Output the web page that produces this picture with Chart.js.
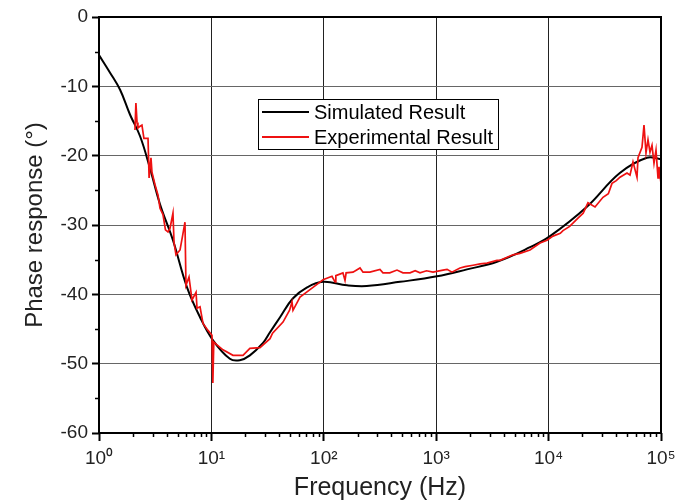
<!DOCTYPE html>
<html><head><meta charset="utf-8">
<script src="https://cdn.jsdelivr.net/npm/chart.js@4/dist/chart.umd.min.js"></script>
<style>html,body{margin:0;padding:0;background:#fff}#wrap{width:687px;height:503px;position:relative}</style>
</head><body><div id="wrap"><canvas id="c"></canvas></div>
<script>
const seriesLabels = ['Simulated Result', 'Experimental Result'];

const simFreq = [1, 1.25, 1.54, 1.89, 2.32, 2.84, 3.49, 4.55, 6.07, 7.92, 10.3, 14.6, 17.9, 22, 28.8, 33.1, 40.8, 53, 71, 98.5, 161, 241, 477, 1016, 1880, 3470, 6840, 10300, 21800, 43000, 74800, 100000];
const simPhase = [-5.5, -8, -10.5, -14.1, -17.2, -21.8, -27, -32.2, -39, -43.3, -46.6, -49.3, -49.5, -48.8, -47, -45.5, -43.3, -40.6, -39, -38.2, -38.7, -38.8, -38.2, -37.4, -36.4, -35.3, -33.2, -31.6, -27.4, -22.5, -20.3, -20.5];

const expFreq = [
  2.09, 2.13, 2.18, 2.22, 2.30, 2.41, 2.51, 2.73, 2.79, 2.90,
  2.96, 3.15, 3.35, 3.49, 3.71, 3.90, 4.11, 4.28, 4.55, 4.65,
  4.84, 5.26, 5.55, 5.82, 5.94, 6.32, 6.72, 7.30, 7.45, 7.92,
  8.42, 9.33, 10.12, 10.3, 10.5, 11.21, 12.68, 15.56, 19.10, 22.0,
  27.06, 33.22, 35.0, 43.36, 49.6, 52.14, 53.21, 61.42, 80.16, 98.4,
  118.3, 125.8, 128, 148, 154.4, 158, 181.9, 210, 223.3, 257,
  316, 336, 386, 448, 506, 585, 650, 718, 820, 937,
  1149, 1250, 1380, 1628, 1810, 2126, 2460, 2831, 3470, 3695,
  4824, 5560, 6831, 8390, 9678, 10940, 12700, 13430, 15400, 18260,
  20300, 22410, 25870, 30480, 34000, 36650, 40000, 43170, 49830, 53000,
  56350, 61150, 62430, 67760, 70590, 73540, 76620, 79800, 83160, 86640,
  90260, 94040, 95980, 100000];
const expPhase = [
  -16.3, -12.4, -15.2, -16, -15.8, -15.6, -17.5, -17.5, -23.2, -20.3,
  -22.4, -24.2, -25.7, -27.6, -28.5, -30.7, -31, -30.5, -28.3, -32.5,
  -34.3, -33.6, -31.5, -29.6, -38.7, -37.5, -40.8, -39.7, -42, -41.8,
  -44.2, -45.2, -45.9, -52.8, -46.9, -47.3, -48, -48.8, -48.8, -47.8,
  -47.7, -46.4, -45.6, -44, -42.3, -41.1, -42.3, -40.4, -39, -37.9,
  -37.4, -38.2, -37.3, -36.9, -38, -36.9, -36.8, -36.2, -36.8, -36.8,
  -36.4, -36.9, -36.9, -36.5, -36.9, -36.9, -36.6, -36.9, -36.6, -36.8,
  -36.5, -36.4, -36.8, -36.2, -36.0, -35.8, -35.6, -35.5, -35.1, -35.1,
  -34.3, -34.1, -33.6, -32.6, -32.2, -31.6, -31.2, -30.8, -30.2, -29,
  -28.3, -26.8, -27.4, -26, -25.5, -24, -23.6, -23.1, -22.5, -22.8,
  -20.9, -23.1, -20.3, -18.8, -15.6, -19.6, -17.7, -19.5, -18.5, -21.1,
  -19.2, -23.2, -21.6, -24];

const xTickValues = [1, 10, 100, 1000, 10000, 100000];
const xTickLabels = ['10\u2070', '10\u00B9', '10\u00B2', '10\u00B3', '10\u2074', '10\u2075'];
const xMinorMultipliers = [2, 3, 4, 5, 6, 7, 8, 9];
const yMinorValues = [-5, -15, -25, -35, -45, -55];

const FONT = "'Liberation Sans', Arial, sans-serif";
const colors = ['#000000', '#ee1111'];

const decor = {
  id: 'decor',
  afterDraw(chart) {
    const {ctx, chartArea: a, scales: {x, y}} = chart;
    ctx.save();
    ctx.strokeStyle = '#000';
    ctx.lineWidth = 1.5;
    ctx.beginPath();
    for (let i = 0; i < xTickValues.length - 1; i++) {
      for (const k of xMinorMultipliers) {
        const px = Math.round(x.getPixelForValue(k * xTickValues[i])) + 0.5;
        ctx.moveTo(px, a.bottom); ctx.lineTo(px, a.bottom + 4);
      }
    }
    for (const v of yMinorValues) {
      const py = Math.round(y.getPixelForValue(v)) + 0.5;
      ctx.moveTo(a.left - 4, py); ctx.lineTo(a.left, py);
    }
    ctx.stroke();
    ctx.lineWidth = 2;
    ctx.strokeRect(a.left, a.top, a.right - a.left, a.bottom - a.top);

    // legend box
    const bx = a.left + 159, by = a.top + 82, bw = 240, bh = 50;
    ctx.fillStyle = '#fff';
    ctx.fillRect(bx, by, bw, bh);
    ctx.lineWidth = 1;
    ctx.strokeStyle = '#000';
    ctx.strokeRect(bx + 0.5, by + 0.5, bw, bh);
    ctx.font = '20px ' + FONT;
    ctx.textBaseline = 'middle';
    ctx.textAlign = 'left';
    chart.data.datasets.forEach((ds, i) => {
      const ly = by + 13 + i * 25;
      ctx.strokeStyle = ds.borderColor;
      ctx.lineWidth = 2;
      ctx.beginPath(); ctx.moveTo(bx + 4, ly); ctx.lineTo(bx + 51, ly); ctx.stroke();
      ctx.fillStyle = '#000';
      ctx.fillText(ds.label, bx + 56, ly + 1);
    });
    ctx.restore();
  }
};

new Chart(document.getElementById('c'), {
  type: 'scatter',
  data: {
    datasets: [
      {
        label: seriesLabels[0],
        data: simFreq.map((f, i) => ({x: f, y: simPhase[i]})),
        showLine: true, borderColor: colors[0], borderWidth: 2, pointRadius: 0,
        tension: 0.4, order: 1
      },
      {
        label: seriesLabels[1],
        data: expFreq.map((f, i) => ({x: f, y: expPhase[i]})),
        showLine: true, borderColor: colors[1], borderWidth: 1.7, pointRadius: 0,
        tension: 0, order: 0
      }
    ]
  },
  options: {
    responsive: true, maintainAspectRatio: false, animation: false,
    layout: {padding: {top: 17, right: 26, left: 0, bottom: 0}},
    plugins: {legend: {display: false}, tooltip: {enabled: false}},
    scales: {
      x: {
        type: 'logarithmic', min: 1, max: 100000,
        afterBuildTicks: s => { s.ticks = xTickValues.map(v => ({value: v, major: true})); },
        afterFit: s => { s.height = 70; },
        ticks: {
          autoSkip: false, maxRotation: 0, padding: 6, color: '#222',
          font: {family: FONT, size: 19},
          callback: v => { const i = xTickValues.indexOf(v); return i >= 0 ? xTickLabels[i] : ''; }
        },
        grid: {color: '#222', lineWidth: 1, tickLength: 8, tickColor: '#000', tickWidth: 2},
        border: {display: false},
        title: {display: true, text: 'Frequency (Hz)', color: '#222', font: {family: FONT, size: 25}, padding: {top: 0, bottom: 0}}
      },
      y: {
        min: -60, max: 0,
        afterFit: s => { s.width = 99; },
        ticks: {stepSize: 10, padding: 4, color: '#222', font: {family: FONT, size: 19}, callback: v => String(v)},
        grid: {color: '#666', lineWidth: 1, tickLength: 7, tickColor: '#000', tickWidth: 2},
        border: {display: false},
        title: {display: true, text: 'Phase response (\u00B0)', color: '#222', font: {family: FONT, size: 24}, padding: {top: 21, bottom: 0}}
      }
    }
  },
  plugins: [decor]
});
</script></body></html>
